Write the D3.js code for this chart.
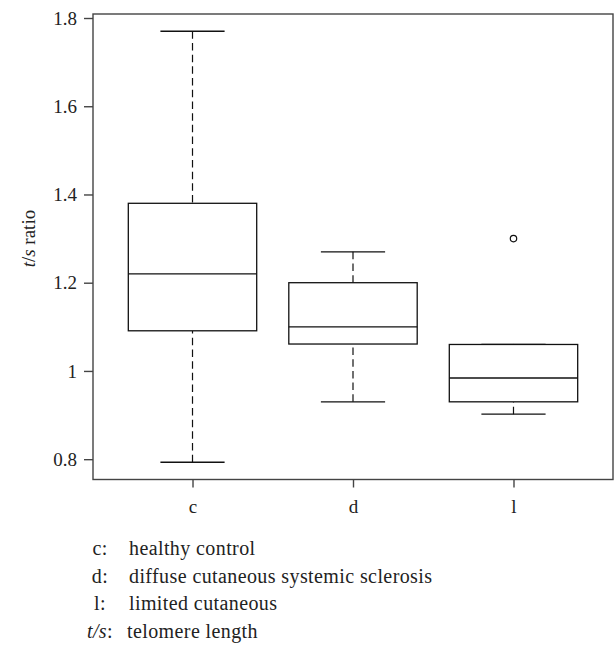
<!DOCTYPE html>
<html>

<head>
    <meta charset="utf-8" />
    <style>
        body {
            margin: 0;
            background-color: white;
        }
        text {
            font-family: "Liberation Serif", "DejaVu Serif", serif;
            fill: #222;
        }
    </style>

    <script src="https://d3js.org/d3.v7.min.js"></script>
</head>

<body>
    <script>
        // summary statistics
        var groups = ["c", "d", "l"];
        var whiskerLow = [0.793, 0.930, 0.902];
        var lowerHinge = [1.091, 1.061, 0.930];
        var medians = [1.220, 1.100, 0.984];
        var upperHinge = [1.380, 1.200, 1.060];
        var whiskerHigh = [1.770, 1.270, 1.060];
        var outlierGroup = ["l"];
        var outlierValue = [1.300];
        var yTicks = [0.8, 1, 1.2, 1.4, 1.6, 1.8];

        var legendKeys = ["c:", "d:", "l:", "t/s:"];
        var legendLabels = ["healthy control", "diffuse cutaneous systemic sclerosis",
            "limited cutaneous", "telomere length"];

        var width = 616,
            height = 645;

        var frame = { left: 93, right: 613, top: 14, bottom: 479.5 };

        var svg = d3.select("body").append("svg")
            .attr("width", width)
            .attr("height", height);

        // R-style 4% range extension
        var yMin = d3.min(whiskerLow), yMax = d3.max(whiskerHigh);
        var pad = (yMax - yMin) * 0.04;
        var y = d3.scaleLinear()
            .domain([yMin - pad, yMax + pad])
            .range([frame.bottom, frame.top]);

        var x = d3.scaleLinear()
            .domain([0.5 - 0.12, groups.length + 0.5 + 0.12])
            .range([frame.left, frame.right]);

        var stats = groups.map(function (g, i) {
            return {
                name: g, pos: i + 1,
                lo: whiskerLow[i], q1: lowerHinge[i], med: medians[i],
                q3: upperHinge[i], hi: whiskerHigh[i]
            };
        });

        var plot = svg.append("g");

        // whiskers (dashed), drawn from the whisker end toward the box
        plot.selectAll(".whisk-hi").data(stats).enter().append("line")
            .attr("x1", function (d) { return x(d.pos); })
            .attr("x2", function (d) { return x(d.pos); })
            .attr("y1", function (d) { return y(d.hi); })
            .attr("y2", function (d) { return y(d.q3); })
            .attr("stroke", "#111").attr("stroke-width", 1.2)
            .attr("stroke-dasharray", "7.5,4.2");
        plot.selectAll(".whisk-lo").data(stats).enter().append("line")
            .attr("x1", function (d) { return x(d.pos); })
            .attr("x2", function (d) { return x(d.pos); })
            .attr("y1", function (d) { return y(d.lo); })
            .attr("y2", function (d) { return y(d.q1); })
            .attr("stroke", "#111").attr("stroke-width", 1.2)
            .attr("stroke-dasharray", "7.5,4.2");

        // caps
        ["hi", "lo"].forEach(function (k) {
            plot.selectAll(".cap-" + k).data(stats).enter().append("line")
                .attr("x1", function (d) { return x(d.pos - 0.2); })
                .attr("x2", function (d) { return x(d.pos + 0.2); })
                .attr("y1", function (d) { return y(d[k]); })
                .attr("y2", function (d) { return y(d[k]); })
                .attr("stroke", "#111").attr("stroke-width", 1.3);
        });

        // boxes
        plot.selectAll(".box").data(stats).enter().append("rect")
            .attr("x", function (d) { return x(d.pos - 0.4); })
            .attr("width", function (d) { return x(d.pos + 0.4) - x(d.pos - 0.4); })
            .attr("y", function (d) { return y(d.q3); })
            .attr("height", function (d) { return y(d.q1) - y(d.q3); })
            .attr("fill", "white")
            .attr("stroke", "#111").attr("stroke-width", 1.3);

        plot.selectAll(".median").data(stats).enter().append("line")
            .attr("x1", function (d) { return x(d.pos - 0.4); })
            .attr("x2", function (d) { return x(d.pos + 0.4); })
            .attr("y1", function (d) { return y(d.med); })
            .attr("y2", function (d) { return y(d.med); })
            .attr("stroke", "#111").attr("stroke-width", 1.3);

        // outliers
        plot.selectAll(".outlier").data(outlierValue).enter().append("circle")
            .attr("cx", function (d, i) { return x(groups.indexOf(outlierGroup[i]) + 1); })
            .attr("cy", function (d) { return y(d); })
            .attr("r", 3.2)
            .attr("fill", "none")
            .attr("stroke", "#111").attr("stroke-width", 1.2);

        // frame
        svg.append("rect")
            .attr("x", frame.left).attr("y", frame.top)
            .attr("width", frame.right - frame.left)
            .attr("height", frame.bottom - frame.top)
            .attr("fill", "none")
            .attr("stroke", "#444").attr("stroke-width", 1.4);

        // y axis
        var yAxis = svg.append("g")
            .attr("transform", "translate(" + frame.left + ",0)")
            .call(d3.axisLeft(y).tickValues(yTicks).tickSize(9).tickPadding(7)
                .tickFormat(function (d) { return d === 1 ? "1" : d3.format(".1f")(d); }));
        yAxis.select(".domain").remove();
        yAxis.selectAll(".tick line").attr("stroke", "#444").attr("stroke-width", 1.4);
        yAxis.selectAll(".tick text")
            .style("font-family", "'Liberation Serif', serif")
            .style("font-size", "19px")
            .attr("fill", "#222")
            .attr("dy", "0.33em");

        // x axis
        var xAxis = svg.append("g")
            .attr("transform", "translate(0," + frame.bottom + ")")
            .call(d3.axisBottom(x).tickValues(stats.map(function (d) { return d.pos; }))
                .tickSize(8).tickPadding(12)
                .tickFormat(function (d) { return groups[d - 1]; }));
        xAxis.select(".domain").remove();
        xAxis.selectAll(".tick line").attr("stroke", "#444").attr("stroke-width", 1.4);
        xAxis.selectAll(".tick text")
            .style("font-family", "'Liberation Serif', serif")
            .style("font-size", "19px")
            .attr("fill", "#222");

        // y label
        var yl = svg.append("text")
            .attr("transform", "translate(34.5," + y(1.3) + ") rotate(-90)")
            .attr("text-anchor", "middle")
            .style("font-size", "19px");
        yl.append("tspan").style("font-style", "italic").text("t");
        yl.append("tspan").text("/");
        yl.append("tspan").style("font-style", "italic").text("s");
        yl.append("tspan").text(" ratio");

        // legend below the plot
        var legend = svg.append("g").selectAll("g").data(legendKeys).enter().append("g")
            .attr("transform", function (d, i) { return "translate(0," + (555 + i * 27.5) + ")"; });

        legend.append("text")
            .attr("x", 100)
            .attr("text-anchor", "middle")
            .style("font-size", "20px")
            .style("letter-spacing", "0.4px")
            .each(function (d) {
                var t = d3.select(this);
                if (d === "t/s:") {
                    t.append("tspan").style("font-style", "italic").text("t/s");
                    t.append("tspan").text(":");
                } else {
                    t.text(d);
                }
            });

        legend.append("text")
            .attr("x", function (d, i) { return i === 3 ? 127 : 129; })
            .style("font-size", "20px")
            .style("letter-spacing", "0.4px")
            .text(function (d, i) { return legendLabels[i]; });
    </script>
</body>

</html>
